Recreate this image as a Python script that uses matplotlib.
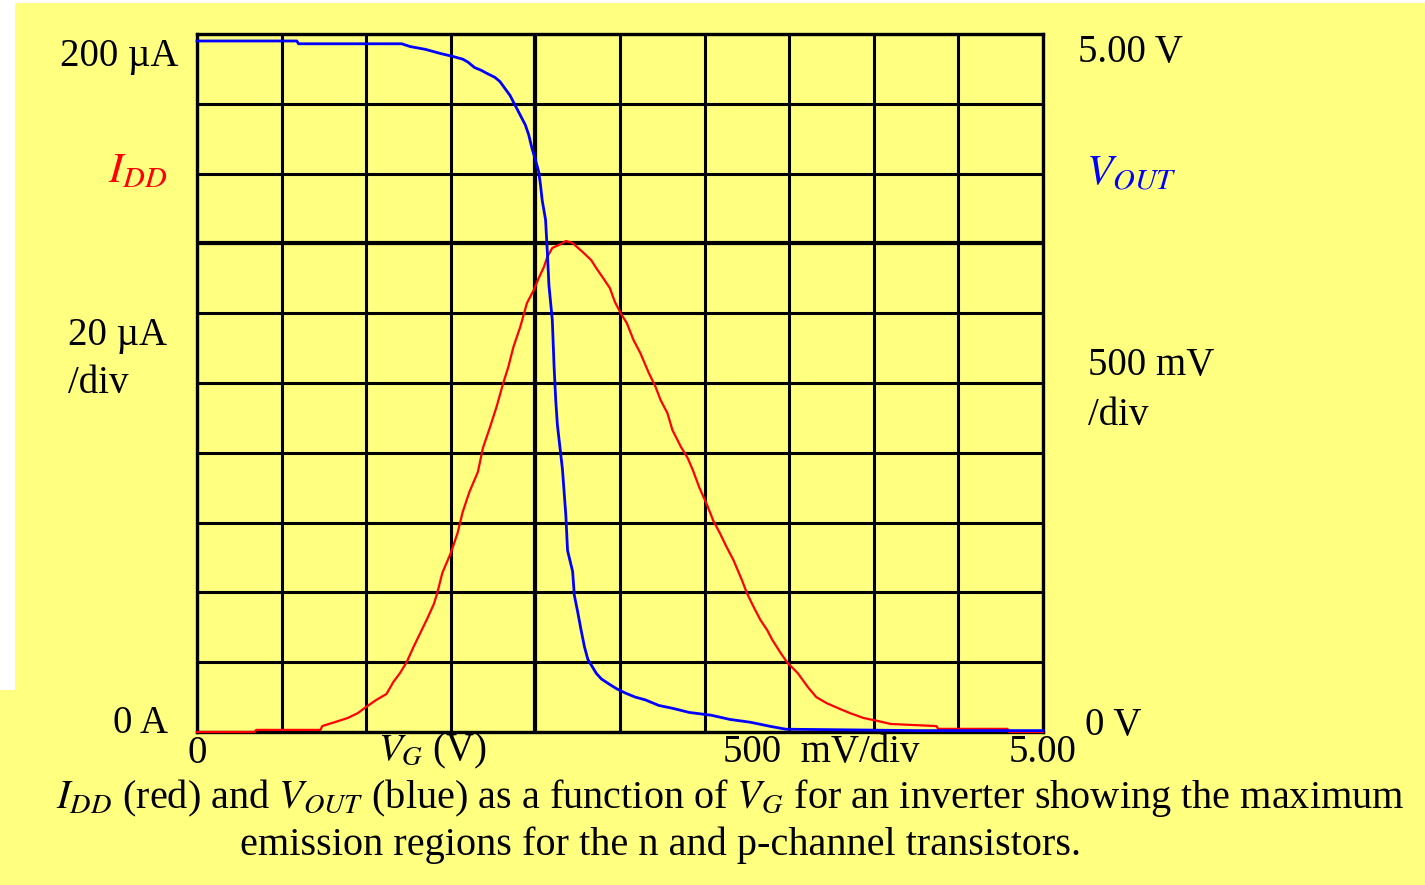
import matplotlib
matplotlib.use("Agg")
import matplotlib.pyplot as plt
from matplotlib.patches import Rectangle
import numpy as np

plt.rcParams["font.family"] = ["Liberation Serif", "DejaVu Serif"]
plt.rcParams["mathtext.fontset"] = "stix"

# ── Data: V_OUT (V) vs V_G (V) ────────────────────────────────────────────────
vg_out = [0.00, 0.59, 0.60, 1.21, 1.26, 1.35, 1.44, 1.51, 1.57, 1.60, 1.64, 1.68,
          1.71, 1.76, 1.79, 1.82, 1.85, 1.88, 1.91, 1.94, 1.96, 1.98, 2.00, 2.02,
          2.03, 2.04, 2.06, 2.07, 2.08, 2.10, 2.11, 2.12, 2.13, 2.16, 2.18, 2.19,
          2.22, 2.23, 2.25, 2.27, 2.29, 2.31, 2.34, 2.36, 2.39, 2.44, 2.48, 2.53,
          2.59, 2.65, 2.73, 2.81, 2.91, 3.04, 3.15, 3.27, 3.39, 3.48, 4.26, 5.00]
vout = [4.95, 4.95, 4.93, 4.93, 4.91, 4.89, 4.86, 4.84, 4.82, 4.80, 4.76, 4.74,
        4.72, 4.69, 4.66, 4.61, 4.56, 4.49, 4.42, 4.35, 4.28, 4.18, 4.10, 4.01,
        3.92, 3.81, 3.67, 3.45, 3.20, 2.95, 2.63, 2.38, 2.20, 1.88, 1.55, 1.30,
        1.15, 0.98, 0.86, 0.73, 0.61, 0.52, 0.46, 0.42, 0.38, 0.34, 0.31, 0.28,
        0.25, 0.23, 0.19, 0.17, 0.14, 0.12, 0.09, 0.07, 0.04, 0.02, 0.01, 0.01]

# ── Data: I_DD (uA) vs V_G (V) ────────────────────────────────────────────────
vg_idd = [0.00, 0.34, 0.35, 0.73, 0.74, 0.80, 0.89, 0.95, 1.00, 1.06, 1.12, 1.16,
          1.20, 1.24, 1.28, 1.32, 1.36, 1.40, 1.42, 1.45, 1.50, 1.54, 1.57, 1.61,
          1.66, 1.69, 1.73, 1.77, 1.81, 1.84, 1.87, 1.91, 1.95, 1.99, 2.02, 2.05,
          2.07, 2.10, 2.15, 2.18, 2.22, 2.28, 2.33, 2.36, 2.40, 2.44, 2.47, 2.51,
          2.54, 2.58, 2.62, 2.67, 2.71, 2.74, 2.78, 2.81, 2.86, 2.90, 2.93, 2.97,
          3.01, 3.05, 3.09, 3.13, 3.17, 3.22, 3.25, 3.29, 3.33, 3.37, 3.40, 3.45,
          3.49, 3.55, 3.61, 3.66, 3.72, 3.80, 3.86, 3.94, 4.02, 4.10, 4.37, 4.38,
          4.79, 4.80, 5.00]
idd = [0.0, 0.0, 0.6, 0.6, 1.7, 2.6, 4.0, 5.4, 7.2, 9.2, 10.9, 14.3,
       16.9, 20.1, 24.4, 28.4, 32.4, 36.7, 39.8, 45.6, 51.3, 57.0, 63.0, 68.8,
       74.5, 81.4, 87.1, 93.1, 100.0, 104.6, 110.3, 116.0, 122.9, 126.6, 130.1, 133.2,
       136.1, 138.7, 139.8, 140.7, 140.1, 137.5, 135.2, 132.9, 130.1, 127.2, 123.2, 119.5,
       117.2, 112.3, 108.6, 102.9, 98.9, 95.1, 91.4, 86.5, 81.7, 78.5, 75.1, 69.9,
       65.6, 60.7, 57.0, 53.0, 49.3, 43.6, 39.8, 35.8, 32.1, 29.2, 26.4, 22.6,
       19.8, 16.9, 12.9, 10.0, 8.3, 6.6, 5.4, 4.0, 3.2, 2.3, 1.7, 0.9,
       0.9, 0.0, 0.0]

W, H = 1425, 885
BG = "#FFFF80"


def px(x, y):
    return x / W, 1 - y / H


fig = plt.figure(figsize=(W / 100, H / 100), dpi=100)
fig.patch.set_facecolor(BG)
# white margins of the original screenshot
fig.patches.append(Rectangle((0, 1 - 690 / H), 15 / W, 690 / H, transform=fig.transFigure,
                             facecolor="white", edgecolor="none", zorder=-1))
fig.patches.append(Rectangle((0, 1 - 3 / H), 1, 3 / H, transform=fig.transFigure,
                             facecolor="white", edgecolor="none", zorder=-1))

ax = fig.add_axes([197 / W, 1 - 732 / H, (1043 - 197) / W, (732 - 34) / H])
ax.set_facecolor(BG)
ax.set_xlim(0, 5)
ax.set_ylim(0, 200)
ax.set_xticks(np.arange(0, 5.01, 0.5))
ax.set_yticks(np.arange(0, 201, 20))
ax.tick_params(length=0, labelbottom=False, labelleft=False)
ax.grid(True, color="black", linewidth=2.2)
ax.axvline(2.0, color="black", linewidth=3.0, zorder=1.6)
ax.axhline(140, color="black", linewidth=3.0, zorder=1.6)
for spine in ax.spines.values():
    spine.set_edgecolor("black")
    spine.set_linewidth(2.4)

ax.plot(vg_idd, idd, color="#FF0000", linewidth=1.6, zorder=4, clip_on=False)

ax2 = ax.twinx()
ax2.set_ylim(0, 5)
ax2.axis("off")
ax2.plot(vg_out, vout, color="#0000FF", linewidth=2.0, zorder=5, clip_on=False)

FS = 27
def label(x, y, s, ha="left", color="black", size=FS):
    fig.text(*px(x, y), s, ha=ha, va="baseline", color=color, fontsize=size)

# left scale
label(178, 66, "200 µA", ha="right", size=28)
label(108, 182, "$I_{DD}$", color="#FF0000", size=31)
label(68, 345, "20 µA", size=28)
label(68, 393, "/div", size=28)
label(168, 733, "0 A", ha="right", size=28)

# right scale
label(1078, 62, "5.00 V", size=28)
label(1086, 185, "$V_{OUT}$", color="#0000FF", size=31)
label(1088, 375, "500 mV", size=28)
label(1088, 425, "/div", size=28)
label(1085, 735, "0 V", size=28)

# x axis
label(197, 763, "0", ha="center", size=28)
label(378, 760, "$V_G$ (V)", size=28)
label(723, 762, "500  mV/div", size=28)
label(1043, 762, "5.00", ha="center", size=28)

# caption
label(730, 808, "$I_{DD}$ (red) and $V_{OUT}$ (blue) as a function of $V_G$ for an inverter "
      "showing the maximum", ha="center", size=29)
label(661, 855, "emission regions for the n and p-channel transistors.", ha="center", size=29)

fig.savefig("out.png", dpi=100, facecolor=fig.get_facecolor())
